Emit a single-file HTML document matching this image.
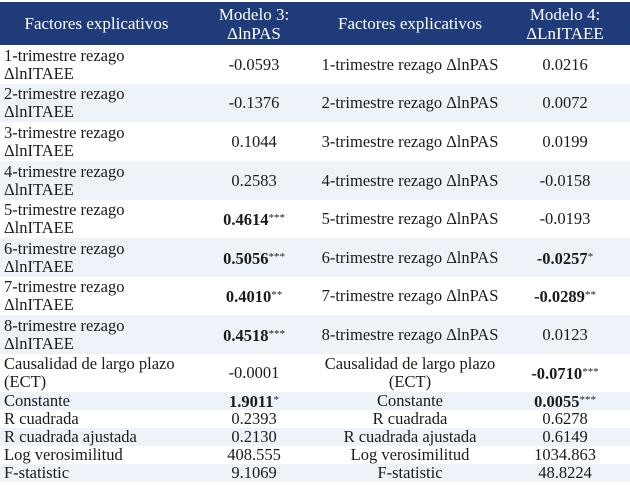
<!DOCTYPE html>
<html><head><meta charset="utf-8"><style>
body{margin:0;width:630px;height:485px;background:#fff;overflow:hidden;font-family:"Liberation Serif",serif;color:#1a1a1a}
.r{position:absolute;left:0;width:630px;display:flex;align-items:center}
.c{position:absolute;top:0;bottom:0;display:flex;align-items:center;line-height:18px;font-size:16.5px}
.c1{left:4px;width:190px}
.c2{left:193px;width:122px;justify-content:center;text-align:center}
.c3{left:315px;width:190px;justify-content:center;text-align:center}
.c4{left:500px;width:130px;justify-content:center;text-align:center}
.alt{background:#eef2f9}
.hd{background:#1f3b7a;color:#fff}
.hd .c{font-size:17px;line-height:19px}
sup{font-size:11px;vertical-align:4px;font-weight:normal}
b{font-weight:bold}
</style></head><body>
<div class="r hd" style="top:2px;height:43px">
<div class="c c1" style="justify-content:center;left:0;width:193px">Factores explicativos</div>
<div class="c c2">Modelo 3:<br>ΔlnPAS</div>
<div class="c c3">Factores explicativos</div>
<div class="c c4">Modelo 4:<br>ΔLnITAEE</div>
</div>
<div class="r" style="top:45px;height:39px">
<div class="c c1">1-trimestre rezago<br>ΔlnITAEE</div><div class="c c2">-0.0593</div><div class="c c3">1-trimestre rezago ΔlnPAS</div><div class="c c4">0.0216</div></div>
<div class="r alt" style="top:84px;height:38px">
<div class="c c1">2-trimestre rezago<br>ΔlnITAEE</div><div class="c c2">-0.1376</div><div class="c c3">2-trimestre rezago ΔlnPAS</div><div class="c c4">0.0072</div></div>
<div class="r" style="top:122px;height:39px">
<div class="c c1">3-trimestre rezago<br>ΔlnITAEE</div><div class="c c2">0.1044</div><div class="c c3">3-trimestre rezago ΔlnPAS</div><div class="c c4">0.0199</div></div>
<div class="r alt" style="top:161px;height:39px">
<div class="c c1">4-trimestre rezago<br>ΔlnITAEE</div><div class="c c2">0.2583</div><div class="c c3">4-trimestre rezago ΔlnPAS</div><div class="c c4">-0.0158</div></div>
<div class="r" style="top:200px;height:38px">
<div class="c c1">5-trimestre rezago<br>ΔlnITAEE</div><div class="c c2"><span><b>0.4614</b><sup>***</sup></span></div><div class="c c3">5-trimestre rezago ΔlnPAS</div><div class="c c4">-0.0193</div></div>
<div class="r alt" style="top:238px;height:39px">
<div class="c c1">6-trimestre rezago<br>ΔlnITAEE</div><div class="c c2"><span><b>0.5056</b><sup>***</sup></span></div><div class="c c3">6-trimestre rezago ΔlnPAS</div><div class="c c4"><span><b>-0.0257</b><sup>*</sup></span></div></div>
<div class="r" style="top:277px;height:38px">
<div class="c c1">7-trimestre rezago<br>ΔlnITAEE</div><div class="c c2"><span><b>0.4010</b><sup>**</sup></span></div><div class="c c3">7-trimestre rezago ΔlnPAS</div><div class="c c4"><span><b>-0.0289</b><sup>**</sup></span></div></div>
<div class="r alt" style="top:315px;height:39px">
<div class="c c1">8-trimestre rezago<br>ΔlnITAEE</div><div class="c c2"><span><b>0.4518</b><sup>***</sup></span></div><div class="c c3">8-trimestre rezago ΔlnPAS</div><div class="c c4">0.0123</div></div>
<div class="r" style="top:354px;height:38px">
<div class="c c1">Causalidad de largo plazo<br>(ECT)</div><div class="c c2">-0.0001</div><div class="c c3">Causalidad de largo plazo<br>(ECT)</div><div class="c c4"><span><b>-0.0710</b><sup>***</sup></span></div></div>
<div class="r alt" style="top:392px;height:18px">
<div class="c c1">Constante</div><div class="c c2"><span><b>1.9011</b><sup>*</sup></span></div><div class="c c3">Constante</div><div class="c c4"><span><b>0.0055</b><sup>***</sup></span></div></div>
<div class="r" style="top:410px;height:18px">
<div class="c c1">R cuadrada</div><div class="c c2">0.2393</div><div class="c c3">R cuadrada</div><div class="c c4">0.6278</div></div>
<div class="r alt" style="top:428px;height:18px">
<div class="c c1">R cuadrada ajustada</div><div class="c c2">0.2130</div><div class="c c3">R cuadrada ajustada</div><div class="c c4">0.6149</div></div>
<div class="r" style="top:446px;height:18px">
<div class="c c1">Log verosimilitud</div><div class="c c2">408.555</div><div class="c c3">Log verosimilitud</div><div class="c c4">1034.863</div></div>
<div class="r alt" style="top:464px;height:18px">
<div class="c c1">F-statistic</div><div class="c c2">9.1069</div><div class="c c3">F-statistic</div><div class="c c4">48.8224</div></div>
</body></html>
